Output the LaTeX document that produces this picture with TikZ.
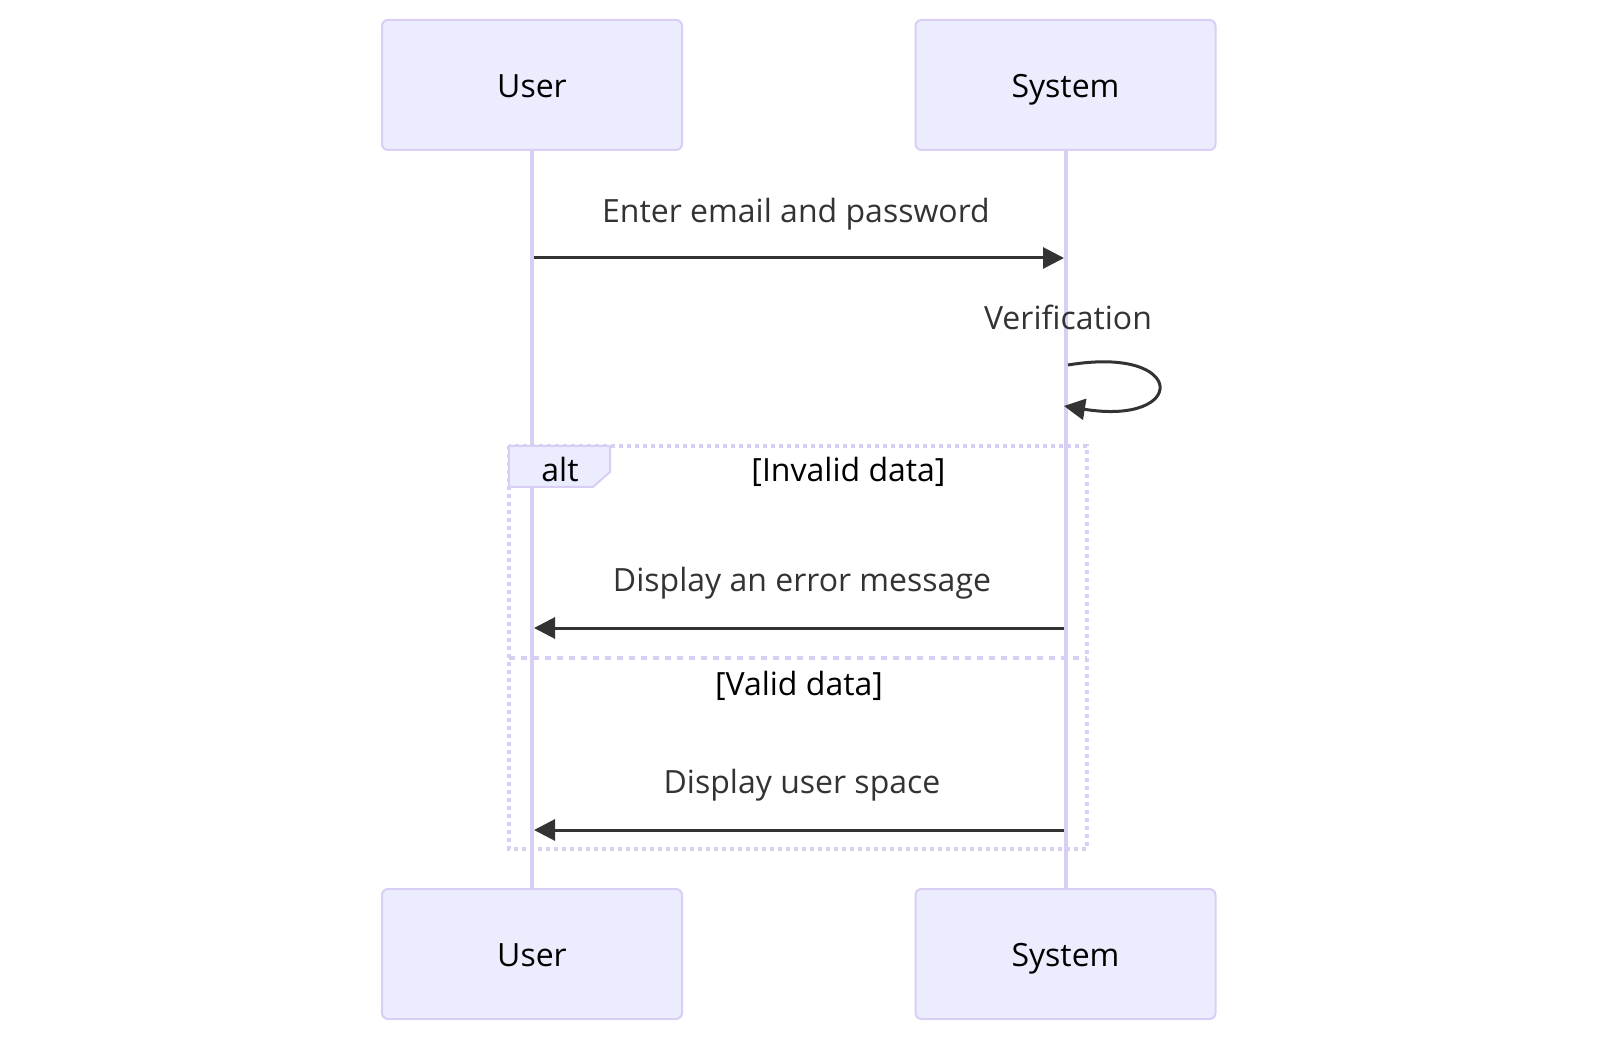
\documentclass[tikz,border=0pt]{standalone}
\usepackage{fontspec}
\setmainfont{Open Sans}
\usepackage{tikz}
\usetikzlibrary{positioning,arrows.meta}
\definecolor{actorfill}{HTML}{ECECFF}
\definecolor{actorline}{HTML}{D9CEF3}
\definecolor{msgcolor}{HTML}{333333}
\tikzset{
  actor/.style={draw=actorline,fill=actorfill,line width=1pt,rounded corners=3pt,
    minimum width=150pt,minimum height=65pt,text height=12.6pt,text depth=0pt,
    font=\fontsize{16pt}{19pt}\selectfont},
  lifeline/.style={draw=actorline,line width=2pt},
  message/.style={draw=msgcolor,line width=1.5pt,-{Triangle[length=10.5pt,width=10.5pt]}},
  msglabel/.style={anchor=base,inner sep=0pt,text=msgcolor,font=\fontsize{16pt}{19pt}\selectfont},
  guard/.style={anchor=base,inner sep=0pt,text=black,font=\fontsize{16pt}{19pt}\selectfont},
  frame/.style={draw=actorline,line width=2pt,dash pattern=on 2pt off 2pt},
  divider/.style={draw=actorline,line width=2pt,dash pattern=on 3pt off 3pt},
  fragtab/.style={draw=actorline,fill=actorfill,line width=1pt}
}
\begin{document}
\begin{tikzpicture}[x=0.5pt,y=-0.5pt]
      \useasboundingbox (0,0) rectangle (1600,1042);
      \node[actor] (user) at (532,85) {User};
      \node[actor] (system) at (1065.5,85) {System};
      \node[actor] (userB) at (532,954) {User};
      \node[actor] (systemB) at (1065.5,954) {System};
      \draw[lifeline] (user.south) -- (userB.north);
      \draw[lifeline] (system.south) -- (systemB.north);
      \coordinate (m1a) at (534,258);
      \coordinate (m1b) at (1064,258);
      \coordinate (v1) at (1068,365);
      \coordinate (v2) at (1064,406);
      \coordinate (m2a) at (1064,628);
      \coordinate (m2b) at (534,628);
      \coordinate (m3a) at (1064,830);
      \coordinate (m3b) at (534,830);
      \coordinate (altNW) at (509,446);
      \coordinate (altSE) at (1087,849);
      \coordinate (sepW) at (509,658);
      \coordinate (sepE) at (1087,658);
      \node[msglabel] (m1l) at (796,223) {Enter email and password};
      \draw[message] (m1a) -- (m1b);
      \node[msglabel] (vl) at (1068,330) {Verification};
      \draw[message] (v1) .. controls (1188,345) and (1188,426) .. (v2);
      \draw[frame] (altNW) rectangle (altSE);
      \draw[fragtab] (altNW) -- (610,446) -- (610,472) -- (593,487) -- (509,487) -- cycle;
      \node[guard] (alt) at (560,482) {alt};
      \node[guard] (g1) at (848.5,482) {[Invalid data]};
      \node[msglabel] (m2l) at (802,591) {Display an error message};
      \draw[message] (m2a) -- (m2b);
      \draw[divider] (sepW) -- (sepE);
      \node[guard] (g2) at (799,695) {[Valid data]};
      \node[msglabel] (m3l) at (802,793) {Display user space};
      \draw[message] (m3a) -- (m3b);
\end{tikzpicture}
\end{document}
